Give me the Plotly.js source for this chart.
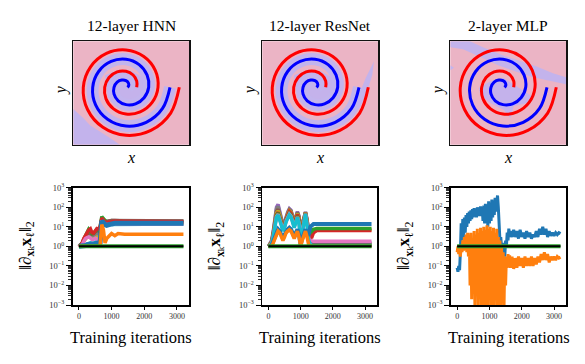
<!DOCTYPE html>
<html>
<head>
<meta charset="utf-8">
<script src="https://cdn.plot.ly/plotly-3.0.1.min.js"></script>
<style>html,body{margin:0;padding:0;background:#fff;} #chart{width:585px;height:364px;}</style>
</head>
<body>
<div id="chart"></div>
<script>
// ---- top row: two spirals (radius in px, angle in degrees) ----
const spiralTheta = [0, -30, -60, -90, -120, -150, -180, -210, -240, -270, -300, -330, -360,
    -390, -420, -450, -480, -510, -540, -570, -600, -630, -660, -690, -720];
const redRadius = [53.3, 51.6, 49.8, 48.0, 46.2, 44.4, 42.7, 40.9, 39.1, 37.3, 35.6, 33.8, 32.0,
    30.2, 28.4, 26.7, 24.9, 23.1, 21.3, 19.6, 17.8, 16.0, 14.2, 12.4, 10.7];
const blueRadius = [44.0, 42.2, 40.4, 38.7, 36.9, 35.1, 33.3, 31.6, 29.8, 28.0, 26.2, 24.4, 22.7,
    20.9, 19.1, 17.3, 15.6, 13.8, 12.0, 10.2, 8.4, 6.7, 4.9, 3.1, 1.5];

// purple decision regions (px from spiral centre, y up)
const hnnBlobX = [-52.7, -42.7, -36, -26, -16, -6, -52.7];
const hnnBlobY = [-21.7, -30.7, -38, -44, -50.7, -57.4, -57.4];
const hnnCoreX = [-21, -8, 6, 20, 25, 18, 6, -8, -18];
const hnnCoreY = [12, 17, 16, 8, -6, -18, -22, -20, -10];
const resWedgeX = [24, 34, 44, 50.7, 59, 57.3, 52.3, 45.7, 37.3, 27.3];
const resWedgeY = [-34, -22.4, -7.4, 9.3, 26, 12.6, -4, -19, -30.7, -38];
const resCoreX = [-21, -8, 6, 20, 25, 18, 6, -8, -18];
const resCoreY = [12, 17, 16, 8, -6, -18, -22, -20, -10];
const mlpStripeX = [-52.7, -33, -20, -3, 15, 33, 50, 63, 63, 48, 30, 12, -5, -22, -40, -52.7];
const mlpStripeY = [46, 46, 40, 33, 27, 21, 14, 10, 3, 6, 10, 16, 22, 30, 38, 40];
const mlpDotX = [-52.7, -49, -52.7];
const mlpDotY = [22, 19.5, 17];
const mlpCoreX = [-24.3, -12.7, 0.7, 10.7, 29, 24, 10.7, 7.3, 0.7, -12.7, -22.7];
const mlpCoreY = [-0.7, 6, 9.3, 2.6, -9, -15.7, -19, -30.7, -22.4, -15.7, -7.4];

// ---- bottom row: gradient norms ----
const baseIters = [0, 3200];
const baseValues = [1, 1];

const hnnIters = [0, 100, 150, 200, 250, 300, 350, 400, 450, 500, 550, 600, 650, 700, 750, 800, 850, 900, 1000, 1100, 1200, 1400, 1700, 2000, 2500, 3000, 3200];
const hnnOrange = [1, 1, 1, 1, 1, 1, 1, 1, 1, 1, 1, 1, 1.2, 13, 7, 1.5, 2.5, 3, 4.5, 3.5, 4.5, 4.2, 4.2, 4.2, 4.2, 4.2, 4.2];
const hnnBlue = [1, 1, 1.05, 1.1, 1.2, 1.3, 1.4, 1.3, 1.3, 1.4, 1.5, 1.5, 1.6, 20, 15, 13, 12, 13, 14, 15, 15, 15, 15, 15, 15, 15, 15];
const hnnCyan = [1, 1.05, 1.1, 1.2, 1.3, 1.4, 1.5, 1.4, 1.4, 1.6, 1.8, 1.7, 1.8, 18, 15, 13, 13, 13, 14, 14, 14, 14, 14, 14, 14, 14, 14];
const hnnPink = [1, 1.2, 1.8, 2.5, 2.8, 3, 2.7, 2.2, 2.3, 2.6, 2.4, 2, 2.2, 16, 14, 13, 13, 13, 14, 14, 14, 14, 14, 14, 14, 14, 14];
const hnnOlive = [1, 1.25, 1.9, 2.6, 3, 3.3, 3, 2.5, 2.6, 3, 3, 2.5, 3, 20, 17, 15, 14, 14, 15, 15, 15, 15, 15, 15, 15, 15, 15];
const hnnPurple = [1, 1.3, 2, 2.8, 3.3, 3.7, 3.5, 3, 3, 3.5, 3.8, 3.2, 4, 22, 18, 16, 15, 15, 16, 16, 16, 16, 16, 16, 16, 16, 16];
const hnnGray = [1, 1.35, 2.1, 3, 3.6, 4.2, 4, 3.5, 3.6, 4.3, 5, 4.5, 6, 24, 20, 19, 19, 20, 21, 21, 21, 20, 20, 20, 20, 20, 20];
const hnnBrown = [1, 1.4, 2.2, 3.2, 4, 4.8, 4.8, 4.2, 4.5, 5.5, 6.5, 6, 8, 25, 21, 19, 19, 20, 21, 21, 20, 20, 20, 20, 20, 20, 20];
const hnnGreen = [1, 1.45, 2.3, 3.4, 5, 7.5, 6, 4.5, 4.6, 5.8, 7.5, 7, 10, 33, 25, 19, 17, 16, 17, 18, 18, 17, 17, 17, 17, 17, 17];
const hnnRed = [1, 1.5, 2.5, 3.6, 5.2, 7, 8, 5, 4.7, 6, 8, 7.5, 10.5, 28, 22, 18, 17, 17, 18, 19, 19, 19, 18, 18, 18, 18, 18];

const resIters = [0, 100, 150, 200, 250, 300, 350, 400, 450, 500, 550, 600, 650, 700, 750, 800, 850, 900, 950, 1000, 1050, 1100, 1150, 1200, 1250, 1300, 1350, 1400, 1500, 2000, 2500, 3000, 3200];
const resOrange = [1, 1, 1.5, 2.5, 4, 6, 5, 3, 2, 3, 5, 6, 7, 6, 4, 2.5, 4, 6, 3, 1, 2, 4, 6, 3, 1.2, 1, 1, 1, 1, 1, 1, 1, 1];
const resBlue = [1, 1.1, 1.8, 3, 5, 7.5, 6, 4, 2.5, 4, 6, 7.5, 9, 7.5, 5, 3, 5, 7.5, 4, 1.2, 2.5, 5, 7.5, 4, 4, 10, 13, 14, 14, 14, 14, 14, 14];
const resCyan = [1, 1.3, 3, 12, 30, 40, 25, 12, 6, 9, 18, 28, 40, 32, 16, 9, 16, 30, 14, 1.3, 5, 14, 45, 12, 2, 1.3, 1.1, 1.1, 1.1, 1.1, 1.1, 1.1, 1.1];
const resPink = [1, 1.4, 3.3, 13, 33, 44, 27, 13, 6.5, 10, 20, 30, 44, 35, 17, 10, 17, 32, 16, 4, 6, 15, 46, 13, 2.5, 2, 1.8, 1.8, 1.8, 1.8, 1.8, 1.8, 1.8];
const resGreen = [1, 1.5, 3.8, 15, 38, 50, 30, 15, 8, 11, 22, 34, 48, 40, 20, 11, 20, 36, 20, 5, 8, 17, 48, 14, 5, 5, 6, 7.5, 8.3, 8.3, 8.3, 8.3, 8.3];
const resRed = [1, 1.5, 4, 17, 42, 56, 35, 17, 9, 12, 24, 38, 60, 50, 25, 13, 24, 42, 24, 6, 9, 20, 50, 16, 5, 3, 3, 5, 6.5, 6.5, 6.5, 6.5, 6.5];
const resOlive = [1, 1.6, 4.2, 19, 50, 65, 40, 18, 10, 13, 26, 42, 65, 55, 27, 14, 26, 46, 27, 6.5, 10, 22, 52, 18, 5, 5, 6, 7, 7, 7, 7, 7, 7];
const resBrown = [1, 1.7, 4.5, 21, 60, 80, 45, 20, 11, 14, 28, 46, 70, 60, 30, 15, 28, 50, 30, 7, 11, 24, 54, 20, 4, 1.5, 1.3, 1.3, 1.3, 1.3, 1.3, 1.3, 1.3];
const resGray = [1, 1.8, 5, 25, 80, 110, 55, 22, 12, 15, 32, 52, 78, 65, 33, 16, 30, 55, 33, 7.5, 12, 26, 56, 22, 3.5, 1.5, 1.2, 1.2, 1.2, 1.2, 1.2, 1.2, 1.2];
const resPurple = [1, 2, 6, 30, 100, 140, 65, 25, 13, 17, 36, 58, 85, 70, 36, 18, 32, 60, 36, 8, 13, 28, 58, 24, 4, 2, 1.6, 1.5, 1.5, 1.5, 1.5, 1.5, 1.5];

const mlpIters = [0, 25, 50, 75, 100, 125, 150, 175, 200, 225, 250, 275, 300, 325, 350, 375, 400, 425, 450, 475,
    500, 525, 550, 575, 600, 625, 650, 675, 700, 725, 750, 775, 800, 825, 850, 875, 900, 925, 950, 975,
    1000, 1025, 1050, 1075, 1100, 1125, 1150, 1175, 1200, 1225, 1250, 1275, 1300, 1325, 1350, 1375, 1400, 1425, 1450, 1475,
    1500, 1525, 1550, 1575, 1600, 1625, 1650, 1700, 1750, 1800, 1850, 1900, 1950, 2000, 2050, 2100, 2150, 2200,
    2250, 2300, 2350, 2400, 2450, 2500, 2550, 2600, 2650, 2700, 2750, 2800, 2850, 2900, 2950, 3000, 3050, 3100, 3150, 3200];
const mlpBlue = [0.08, 0.05, 0.1, 0.06, 0.5, 15, 2, 25, 3, 30, 5, 40, 10, 50, 15, 60, 20, 70, 25, 80,
    30, 90, 35, 80, 30, 100, 40, 90, 35, 110, 40, 100, 20, 120, 15, 150, 20, 130, 10, 200,
    15, 150, 20, 250, 30, 200, 40, 300, 60, 350, 400, 100, 5, 2, 3, 1, 1.5, 0.4, 1, 0.3,
    2, 1, 5, 2, 8, 3, 6, 3, 7, 3, 6, 2.5, 7, 3, 5, 2.5, 6, 3,
    5, 2.5, 4, 3, 6, 3, 8, 4, 10, 4, 8, 3, 6, 3.5, 5, 3.5, 5, 4, 5, 4.5];
const mlpOrange = [0.5, 1, 0.4, 0.8, 0.3, 1, 0.5, 2, 0.6, 3, 0.8, 4, 0.5, 5, 0.3, 4, 0.01, 5, 0.002, 2,
    0.05, 6, 0.001, 4, 0.003, 8, 0.0008, 5, 0.002, 9, 0.0005, 6, 0.001, 10, 0.0005, 7, 0.001, 12, 0.0005, 8,
    0.002, 10, 0.0005, 6, 0.001, 9, 0.0005, 5, 0.002, 8, 0.0005, 3, 0.001, 2, 0.0005, 1, 0.002, 0.5, 0.0005, 0.3,
    0.01, 0.3, 0.08, 0.4, 0.1, 0.35, 0.08, 0.3, 0.07, 0.25, 0.08, 0.3, 0.1, 0.25, 0.08, 0.3, 0.1, 0.25,
    0.1, 0.3, 0.1, 0.25, 0.12, 0.3, 0.15, 0.4, 0.2, 0.5, 0.2, 0.4, 0.15, 0.3, 0.2, 0.3, 0.2, 0.3, 0.25, 0.28];

const logTicks = [0.001, 0.01, 0.1, 1, 10, 100, 1000];
const logTickText = ['10<sup>−3</sup>', '10<sup>−2</sup>', '10<sup>−1</sup>', '10<sup>0</sup>', '10<sup>1</sup>', '10<sup>2</sup>', '10<sup>3</sup>'];
const iterTicks = [0, 1000, 2000, 3000];
const panelTitles = ['12-layer HNN', '12-layer ResNet', '2-layer MLP'];

const tab = {blue: '#1f77b4', orange: '#ff7f0e', green: '#2ca02c', red: '#d62728', purple: '#9467bd',
    brown: '#8c564b', pink: '#e377c2', gray: '#7f7f7f', olive: '#bcbd22', cyan: '#17becf'};
const pinkBg = '#ebb4c5';
const purpleShades = ['#c3b3ec', '#c4b2eb', '#c2b4ed'];
const serif = 'Liberation Serif, DejaVu Serif, serif';
const W = 585, H = 364;
const dx = (l, r) => [l / W, r / W];
const dy = (t, b) => [1 - b / H, 1 - t / H];

const topLeft = [73.3, 262.3, 450.3], topW = 115.7, topT = 41.3, topB = 144.7;
const botLeft = [72.7, 262.3, 451], botRight = [189, 377, 566], botT = 187.7, botB = 305;
const cxOff = 52.7, cyPix = 87.3;

// polar radius/angle -> axis units (px from centre)
const toX = r => r.map((v, i) => v * Math.cos(spiralTheta[i] * Math.PI / 180));
const toY = r => r.map((v, i) => v * Math.sin(spiralTheta[i] * Math.PI / 180));

const traces = [];
function region(px, py, xa, ya, k) {
    traces.push({type: 'scatter', mode: 'lines', x: px, y: py, xaxis: xa, yaxis: ya,
        fill: 'toself', fillcolor: purpleShades[k], line: {width: 0}});
}
function spirals(xa, ya, band) {
    if (band) {
        traces.push({type: 'scatter', mode: 'lines', x: toX(blueRadius), y: toY(blueRadius), xaxis: xa, yaxis: ya,
            line: {color: purpleShades[2], width: 12, shape: 'spline'}});
    }
    traces.push({type: 'scatter', mode: 'lines', x: toX(redRadius), y: toY(redRadius), xaxis: xa, yaxis: ya,
        line: {color: '#ff0000', width: 3, shape: 'spline'}});
    traces.push({type: 'scatter', mode: 'lines', x: toX(blueRadius), y: toY(blueRadius), xaxis: xa, yaxis: ya,
        line: {color: '#0000ff', width: 3, shape: 'spline'}});
}
region(hnnBlobX, hnnBlobY, 'x', 'y', 0);
region(hnnCoreX, hnnCoreY, 'x', 'y', 1);
spirals('x', 'y', true);
region(resWedgeX, resWedgeY, 'x2', 'y2', 0);
region(resCoreX, resCoreY, 'x2', 'y2', 1);
spirals('x2', 'y2', true);
region(mlpStripeX, mlpStripeY, 'x3', 'y3', 0);
region(mlpDotX, mlpDotY, 'x3', 'y3', 2);
region(mlpCoreX, mlpCoreY, 'x3', 'y3', 1);
spirals('x3', 'y3', false);

function normLines(iters, order, xa, ya) {
    order.forEach(([c, v, w]) => traces.push({type: 'scatter', mode: 'lines', xaxis: xa, yaxis: ya,
        x: iters, y: v, line: {color: tab[c], width: w || 3.5}}));
}
function baseline(xa, ya) {
    traces.push({type: 'scatter', mode: 'lines', xaxis: xa, yaxis: ya, x: baseIters, y: baseValues,
        line: {color: tab.green, width: 4}});
    traces.push({type: 'scatter', mode: 'lines', xaxis: xa, yaxis: ya, x: baseIters, y: baseValues,
        line: {color: '#000', width: 2}});
}

normLines(hnnIters,
    [['purple', hnnPurple], ['olive', hnnOlive], ['cyan', hnnCyan], ['gray', hnnGray], ['brown', hnnBrown],
     ['green', hnnGreen], ['red', hnnRed], ['pink', hnnPink], ['blue', hnnBlue, 5], ['orange', hnnOrange]],
    'x4', 'y4');
baseline('x4', 'y4');

normLines(resIters,
    [['purple', resPurple], ['gray', resGray], ['brown', resBrown], ['olive', resOlive], ['red', resRed],
     ['green', resGreen], ['pink', resPink], ['cyan', resCyan], ['blue', resBlue, 4], ['orange', resOrange]],
    'x5', 'y5');
baseline('x5', 'y5');

traces.push({type: 'scatter', mode: 'lines', xaxis: 'x6', yaxis: 'y6', x: mlpIters, y: mlpBlue,
    line: {color: tab.blue, width: 3}});
traces.push({type: 'scatter', mode: 'lines', xaxis: 'x6', yaxis: 'y6', x: mlpIters, y: mlpOrange,
    line: {color: tab.orange, width: 3}});
baseline('x6', 'y6');

const layout = {width: W, height: H, margin: {l: 0, r: 0, t: 0, b: 0}, showlegend: false,
    plot_bgcolor: 'rgba(0,0,0,0)', font: {family: serif, color: '#000'},
    shapes: [], annotations: []};

const ann = (text, x, y, size, angle) => ({text, x: x / W, y: 1 - y / H, xref: 'paper', yref: 'paper',
    showarrow: false, textangle: angle || 0, xanchor: 'center', yanchor: 'middle',
    font: {size, family: serif, color: '#000'}});

[0, 1, 2].forEach(i => {
    const s = i ? String(i + 1) : '';
    const l = topLeft[i];
    layout['xaxis' + s] = {domain: dx(l, l + topW), range: [-cxOff, topW - cxOff], anchor: 'y' + s,
        showline: true, mirror: true, linewidth: 1.5, linecolor: '#111', showgrid: false, zeroline: false,
        showticklabels: false};
    layout['yaxis' + s] = {domain: dy(topT, topB), range: [-(topB - cyPix), cyPix - topT], anchor: 'x' + s,
        showline: true, mirror: true, linewidth: 1.5, linecolor: '#111', showgrid: false, zeroline: false,
        showticklabels: false};
    layout.shapes.push({type: 'rect', xref: 'x' + s + ' domain', yref: 'y' + s + ' domain', x0: 0, x1: 1, y0: 0, y1: 1,
        fillcolor: pinkBg, line: {width: 0}, layer: 'below'});
    layout.annotations.push(ann(panelTitles[i], l + topW / 2, 26, 15.5));
    layout.annotations.push(ann('<i>x</i>', l + topW / 2, 157, 16));
    layout.annotations.push(ann('<i>y</i>', l - 12, 90, 16, -90));

    const b = String(i + 4);
    layout['xaxis' + b] = {domain: dx(botLeft[i], botRight[i]), range: [-190, 3370], anchor: 'y' + b,
        tickvals: iterTicks, ticks: 'outside', ticklen: 3, tickwidth: 1, tickcolor: '#000',
        showline: true, mirror: true, linewidth: 1.8, linecolor: '#000', showgrid: false, zeroline: false,
        tickfont: {size: 8, family: serif, color: '#333'}};
    layout['yaxis' + b] = {domain: dy(botT, botB), type: 'log', range: [-3, 3], anchor: 'x' + b,
        tickmode: 'array', tickvals: logTicks, ticktext: logTickText,
        ticks: 'outside', ticklen: 5, tickwidth: 1, tickcolor: '#000',
        minor: {ticks: 'outside', ticklen: 3, tickwidth: 0.8, tickcolor: '#000', dtick: 'D1', showgrid: false},
        showline: true, mirror: true, linewidth: 1.8, linecolor: '#000', showgrid: false, zeroline: false,
        tickfont: {size: 8.5, family: serif, color: '#333'}};
    const bc = (botLeft[i] + botRight[i]) / 2;
    layout.annotations.push(ann('Training iterations', bc, 337, 16.5));
    layout.annotations.push(ann('‖∂<sub><b>x</b>ₖ</sub><b>x</b><sub>ℓ</sub>‖<sub>2</sub>', botLeft[i] - 46, 246, 17, -90));
});

Plotly.newPlot('chart', traces, layout, {displayModeBar: false, staticPlot: true});
</script>
</body>
</html>
